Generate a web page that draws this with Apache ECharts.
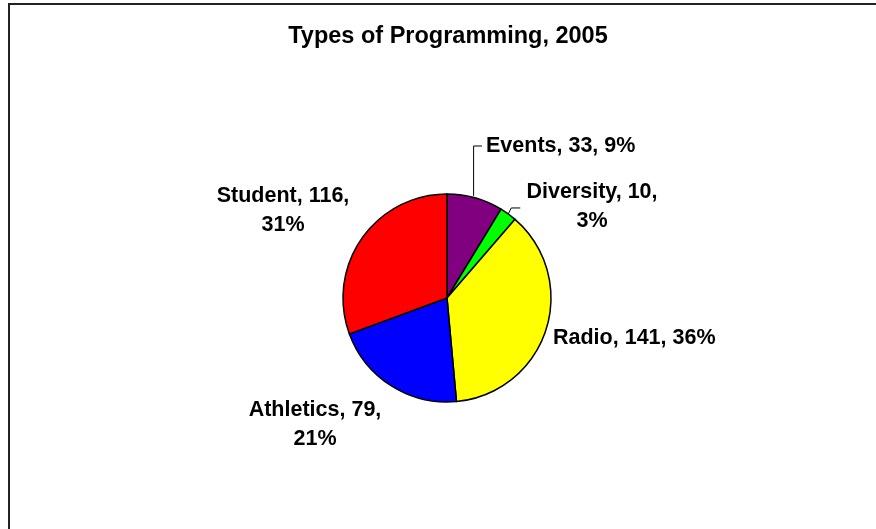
<!DOCTYPE html>
<html>
<head>
<meta charset="utf-8">
<script src="https://cdn.jsdelivr.net/npm/echarts@6/dist/echarts.min.js"></script>
<style>
html,body{margin:0;padding:0;background:#fff;}
#chart{width:876px;height:529px;}
</style>
</head>
<body>
<div id="chart"></div>
<script>
// ---- Data ----
var titleText = 'Types of Programming, 2005';
var categories = ['Events', 'Diversity', 'Radio', 'Athletics', 'Student'];
var counts = [33, 10, 141, 79, 116];
var percents = [9, 3, 36, 21, 31];
var sliceColors = ['#800080', '#00FF00', '#FFFF00', '#0000FF', '#FF0000'];

// ---- Label layout (positions / wrapping, not data) ----
var labelLayouts = [
  {x: 486, y: 146, align: 'left', wrap: false, line: 'elbowUp'},
  {x: 592, y: 207, align: 'center', wrap: true, line: 'elbowShort'},
  {x: 553, y: 338, align: 'left', wrap: false, line: null},
  {x: 315, y: 425, align: 'center', wrap: true, line: null},
  {x: 283, y: 211, align: 'center', wrap: true, line: null}
];

var FONT = 'Arial, "Liberation Sans", sans-serif';

var seriesData = categories.map(function (c, i) {
  return {
    name: c,
    value: counts[i],
    itemStyle: {color: sliceColors[i]},
    labelLine: {show: !!labelLayouts[i].line}
  };
});

var chart = echarts.init(document.getElementById('chart'), null, {renderer: 'canvas'});
chart.setOption({
  backgroundColor: '#ffffff',
  animation: false,
  title: {
    text: titleText,
    left: 443,
    top: 20,
    textAlign: 'center',
    textStyle: {fontFamily: FONT, fontSize: 23.5, fontWeight: 'bold', color: '#000'}
  },
  graphic: [{
    type: 'rect',
    shape: {x: 9, y: 4, width: 1200, height: 1000},
    style: {fill: 'none', stroke: '#222', lineWidth: 2},
    silent: true,
    z: 100
  }],
  series: [{
    type: 'pie',
    center: [447, 298],
    radius: 104,
    startAngle: 90,
    clockwise: true,
    avoidLabelOverlap: false,
    data: seriesData,
    itemStyle: {borderColor: '#000', borderWidth: 1.5},
    emphasis: {disabled: true},
    label: {
      show: true,
      position: 'outside',
      fontFamily: FONT,
      fontSize: 21.5,
      fontWeight: 'bold',
      color: '#000',
      lineHeight: 29,
      formatter: function (p) {
        var i = p.dataIndex;
        var sep = labelLayouts[i].wrap ? '\n' : ' ';
        return categories[i] + ', ' + counts[i] + ',' + sep + percents[i] + '%';
      }
    },
    labelLine: {
      show: true,
      length: 10,
      length2: 5,
      lineStyle: {color: '#000', width: 1}
    },
    labelLayout: function (params) {
      var L = labelLayouts[params.dataIndex];
      var out = {x: L.x, y: L.y, align: L.align, verticalAlign: 'middle', hideOverlap: false, moveOverlap: null};
      var pts = params.labelLinePoints;
      if (L.line && pts && pts.length) {
        var a = pts[0];
        if (L.line === 'elbowUp') {
          out.labelLinePoints = [[a[0] - 1.5, a[1] - 2], [a[0] - 1.5, L.y], [L.x - 4, L.y]];
        } else {
          out.labelLinePoints = [[a[0], a[1]], [a[0] + 3, a[1] - 6], [a[0] + 12, a[1] - 6]];
        }
      }
      return out;
    }
  }]
});
</script>
</body>
</html>
